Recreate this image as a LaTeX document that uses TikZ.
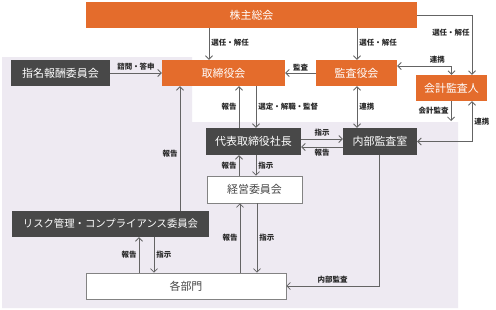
\documentclass[tikz,border=0pt]{standalone}
\usepackage{xcolor}
\usepackage{fontspec}
\setmainfont{Noto Sans CJK JP}
\usepackage{tikz}
\usetikzlibrary{arrows.meta}
\definecolor{board}{RGB}{228,108,44}
\definecolor{committee}{RGB}{72,72,72}
\definecolor{backdrop}{RGB}{238,234,242}
\definecolor{connector}{RGB}{100,100,100}
\definecolor{labeltext}{RGB}{40,40,40}

\begin{document}
\begin{tikzpicture}[x=1bp, y=-1bp,
    box/.style={rectangle, minimum height=26bp, inner sep=0pt, font=\fontsize{11}{13}\selectfont},
    orangebox/.style={box, fill=board, text=white},
    darkbox/.style={box, fill=committee, text=white},
    whitebox/.style={box, fill=white, draw=connector!80, line width=0.6pt, text=committee},
    lbl/.style={font=\fontsize{7.5}{9}\selectfont\bfseries, text=labeltext, inner sep=2bp},
    arr/.style={draw=connector, line width=0.8pt, -{Straight Barb[length=3.5bp, width=7bp]}},
    arrboth/.style={arr, {Straight Barb[length=3.5bp, width=7bp]}-{Straight Barb[length=3.5bp, width=7bp]}}]

    % canvas and shaded area
    \fill[white] (0,0) rectangle (496,309);
    \useasboundingbox (0,0) rectangle (496,309);
    \fill[backdrop] (2,57) -- (192,57) -- (192,122) -- (458,122) -- (458,308) -- (2,308) -- cycle;

    % boxes
    \node[orangebox, minimum width=331bp] (soukai) at (251.5,15) {株主総会};
    \node[orangebox, minimum width=123bp] (torishimari) at (223.5,73) {取締役会};
    \node[orangebox, minimum width=81bp] (kansayaku) at (356.5,73) {監査役会};
    \node[orangebox, minimum width=71bp] (kaikei) at (451.5,88) {会計監査人};
    \node[darkbox, minimum width=99bp] (shimei) at (60.5,73) {指名報酬委員会};
    \node[darkbox, minimum width=95bp, minimum height=27bp] (shacho) at (253.5,141.5) {代表取締役社長};
    \node[darkbox, minimum width=74bp, minimum height=27bp] (naibu) at (380,141.5) {内部監査室};
    \node[whitebox, minimum width=95bp, minimum height=27bp] (keiei) at (254.5,189.5) {経営委員会};
    \node[darkbox, minimum width=197bp, font=\fontsize{10.4}{12}\selectfont] (risk) at (110.5,224) {リスク管理・コンプライアンス委員会};
    \node[whitebox, minimum width=200bp] (kakubu) at (186,286) {各部門};

    % columns and rows of the connectors
    \coordinate (xElect) at (209,0);
    \coordinate (xAuditElect) at (357,0);
    \coordinate (xAuditorElect) at (472,0);
    \coordinate (xReportUp) at (239,0);
    \coordinate (xOversee) at (256,0);
    \coordinate (xDeptReport) at (240,0);
    \coordinate (xDeptOrder) at (257,0);
    \coordinate (xRiskReport) at (180,0);
    \coordinate (xRiskUp) at (139,0);
    \coordinate (xRiskDown) at (154,0);
    \coordinate (xInternal) at (379,0);
    \coordinate (xAcctAudit) at (451,0);
    \coordinate (yLiaison) at (0,66);
    \coordinate (yInstr) at (0,139);
    \coordinate (yRep) at (0,147);
    \coordinate (acctEnd) at (451,121);

    % connectors
    \draw[arr] (soukai.south -| xElect) -- node[lbl, right, pos=0.45] {選任・解任} (torishimari.north -| xElect);
    \draw[arr] (soukai.south -| xAuditElect) -- node[lbl, right, pos=0.45] {選任・解任} (kansayaku.north -| xAuditElect);
    \draw[arr] (soukai.east) -| node[lbl, left, pos=0.65] {選任・解任} (kaikei.north -| xAuditorElect);
    \draw[arr] (kansayaku.west) -- node[lbl, above] {監査} (torishimari.east);
    \draw[arrboth] (kansayaku.east |- yLiaison) -| node[lbl, above, pos=0.37] {連携} (kaikei.north);
    \draw[arr] (shimei.east) -- node[lbl, above] {諮問・答申} (torishimari.west);
    \draw[arr] (shacho.north -| xReportUp) -- node[lbl, left] {報告} (torishimari.south -| xReportUp);
    \draw[arr] (torishimari.south -| xOversee) -- node[lbl, right] {選定・解職・監督} (shacho.north -| xOversee);
    \draw[arrboth] (kansayaku.south -| xAuditElect) -- node[lbl, right] {連携} (naibu.north -| xAuditElect);
    \draw[arr] (kaikei.south -| xAcctAudit) -- node[lbl, left] {会計監査} (acctEnd);
    \draw[arrboth] (kaikei.south -| xAuditorElect) |- node[lbl, right, pos=0.25] {連携} (naibu.east);
    \draw[arr] (shacho.east |- yInstr) -- node[lbl, above] {指示} (naibu.west |- yInstr);
    \draw[arr] (naibu.west |- yRep) -- node[lbl, below] {報告} (shacho.east |- yRep);
    \draw[arr] (keiei.north -| xReportUp) -- node[lbl, left] {報告} (shacho.south -| xReportUp);
    \draw[arr] (shacho.south -| xOversee) -- node[lbl, right] {指示} (keiei.north -| xOversee);
    \draw[arr] (kakubu.north -| xDeptReport) -- node[lbl, left] {報告} (keiei.south -| xDeptReport);
    \draw[arr] (keiei.south -| xDeptOrder) -- node[lbl, right] {指示} (kakubu.north -| xDeptOrder);
    \draw[arr] (risk.north -| xRiskReport) -- node[lbl, left, pos=0.46] {報告} (torishimari.south -| xRiskReport);
    \draw[arr] (kakubu.north -| xRiskUp) -- node[lbl, left] {報告} (risk.south -| xRiskUp);
    \draw[arr] (risk.south -| xRiskDown) -- node[lbl, right] {指示} (kakubu.north -| xRiskDown);
    \draw[arr] (naibu.south -| xInternal) |- node[lbl, above, pos=0.75] {内部監査} (kakubu.east);
\end{tikzpicture}
\end{document}
